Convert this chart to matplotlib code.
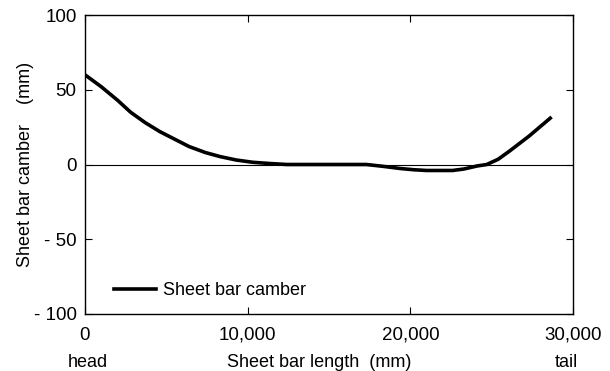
import numpy as np
import matplotlib.pyplot as plt

plt.rcParams['font.family'] = ['Liberation Sans', 'DejaVu Sans']

# camber profile
length_mm = [0, 1000, 2000, 2800, 3700, 4600, 5500, 6400, 7400, 8300, 9300,
             10300, 11300, 12400, 14000, 15500, 17300, 18300, 19400, 20200,
             21000, 22600, 23300, 24100, 24700, 25400, 26100, 27300, 28600]
camber_mm = [60, 52, 43, 35, 28, 22, 17, 12, 8, 5.3, 3, 1.5, 0.7, 0, 0, 0, 0,
             -1.2, -2.7, -3.5, -4, -4, -3, -1, 0, 3.5, 9, 19, 31]

yticks = [-100, -50, 0, 50, 100]
ytick_labels = ['- 100', '- 50', '0', '50', '100']
xticks = [0, 10000, 20000, 30000]
xtick_labels = ['0', '10,000', '20,000', '30,000']

fig = plt.figure(figsize=(6.1, 3.71), dpi=100)
ax = fig.add_axes([85/610, 1-314/371, (573-85)/610, (314-15)/371])

ax.axhline(0, color='black', lw=0.8)
ax.plot(length_mm, camber_mm, color='black', lw=2.6, label='Sheet bar camber')

ax.set_xlim(0, 30000)
ax.set_ylim(-100, 100)
ax.set_xticks(xticks)
ax.set_xticklabels(xtick_labels)
ax.set_yticks(yticks)
ax.set_yticklabels(ytick_labels)
ax.tick_params(direction='in', length=5, width=0.8, labelsize=13.5,
               top=True, right=True)
ax.tick_params(axis='x', pad=9)
ax.tick_params(axis='y', pad=6)
for s in ax.spines.values():
    s.set_linewidth(1.0)

ax.set_ylabel('Sheet bar camber    (mm)', fontsize=13, labelpad=0)
ax.text(0.005, -0.135, 'head', transform=ax.transAxes, ha='center', va='top', fontsize=13)
ax.text(1.01, -0.135, 'tail', transform=ax.transAxes, ha='right', va='top', fontsize=13)
ax.text(0.48, -0.135, 'Sheet bar length  (mm)', transform=ax.transAxes,
        ha='center', va='top', fontsize=13)

ax.legend(loc='center left', frameon=False, fontsize=13, handlelength=2.3,
          handletextpad=0.4, borderaxespad=0, bbox_to_anchor=(0.045, 0.077))

fig.savefig('out.png', dpi=100)
